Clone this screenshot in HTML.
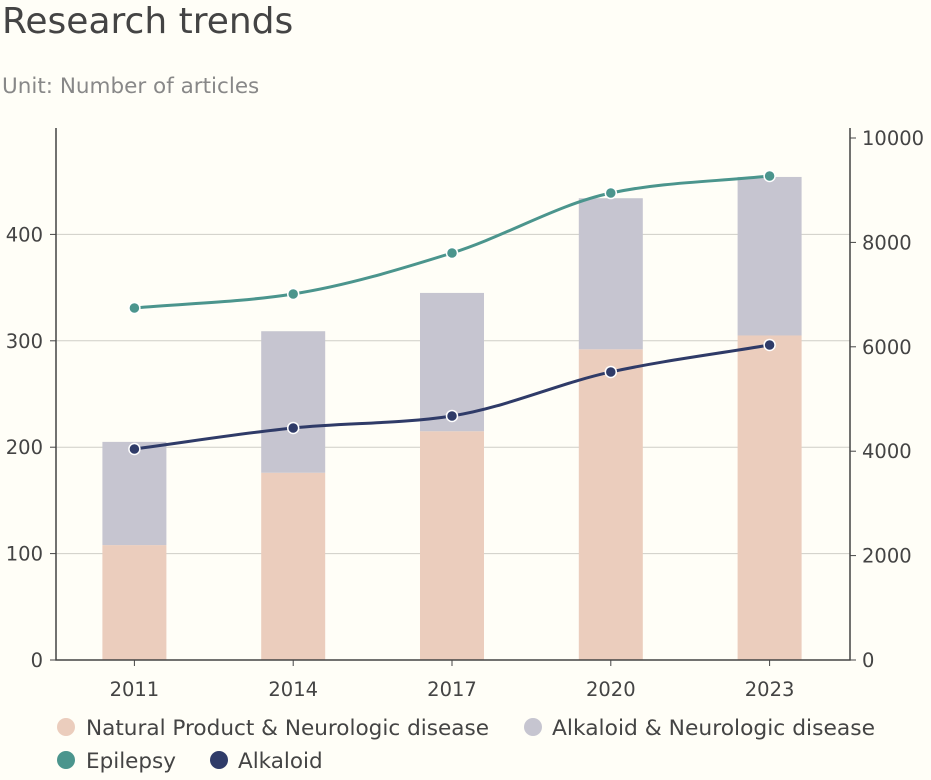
<!DOCTYPE html>
<html><head><meta charset="utf-8"><style>
html,body{margin:0;padding:0;background:#fffef7;}
body{width:931px;height:776px;overflow:hidden;font-family:"DejaVu Sans","Liberation Sans",sans-serif;}
svg text{font-family:"DejaVu Sans","Liberation Sans",sans-serif;}
</style></head><body>
<svg id="chart" width="931" height="776">
<text x="2" y="33" font-size="36" fill="#444">Research trends</text>
<text x="2" y="93" font-size="21.5" fill="#888">Unit: Number of articles</text>
<g id="grid"></g><g id="bars"></g><g id="axes"></g><g id="lines"></g>
<g font-size="21.5" fill="#444">
<g><circle cx="66" cy="727" r="9" fill="#ebcdbd"/><text x="86" y="735" textLength="403" lengthAdjust="spacingAndGlyphs">Natural Product &amp; Neurologic disease</text></g>
<g><circle cx="533" cy="727" r="9" fill="#c6c5d0"/><text x="552" y="735" textLength="323" lengthAdjust="spacingAndGlyphs">Alkaloid &amp; Neurologic disease</text></g>
<g><circle cx="66" cy="760" r="9" fill="#4b958d"/><text x="86" y="768">Epilepsy</text></g>
<g><circle cx="219" cy="760" r="9" fill="#2f3b68"/><text x="238" y="768">Alkaloid</text></g>
</g>
</svg>
<script>
const categories=["2011","2014","2017","2020","2023"];
const naturalProduct=[108,176,215,292,305];
const alkaloidNeuro=[97,133,130,142,149];
const epilepsy=[6744,7012,7797,8946,9272];
const alkaloid=[4042,4445,4675,5518,6035];
const leftTicks=[0,100,200,300,400];
const rightTicks=[0,2000,4000,6000,8000,10000];
const NS="http://www.w3.org/2000/svg";
const X0=56,X1=850,Y0=660,YT=128;
const band=(X1-X0)/categories.length;
const xc=i=>X0+band*(i+0.5)-1;
const yL=v=>Y0-v*(Y0-YT)/500;
const yR=v=>Y0-v*(Y0-138)/10000;
function mk(t,a,p){const e=document.createElementNS(NS,t);for(const k in a)e.setAttribute(k,a[k]);document.getElementById(p).appendChild(e);return e;}
leftTicks.forEach(t=>{if(t>0){const g=mk('line',{x1:X0,x2:X1,y1:yL(t),y2:yL(t),stroke:'#cfcec7','stroke-width':1},'grid');

}
const l=mk('text',{x:43,y:yL(t)+7,'text-anchor':'end','font-size':19.5,fill:'#444'},'axes');l.textContent=t;


mk('line',{x1:X0-6,x2:X0,y1:yL(t),y2:yL(t),stroke:'#444'},'axes');});
rightTicks.forEach(t=>{const l=mk('text',{x:862,y:yR(t)+7,'font-size':19.5,fill:'#444'},'axes');l.textContent=t;


mk('line',{x1:X1,x2:X1+6,y1:yR(t),y2:yR(t),stroke:'#444'},'axes');});
categories.forEach((c,i)=>{const bw=64;
const b1=mk('rect',{x:xc(i)-bw/2,y:yL(naturalProduct[i]),width:bw,height:Y0-yL(naturalProduct[i]),fill:'#ebcdbd'},'bars');


const b2=mk('rect',{x:xc(i)-bw/2,y:yL(naturalProduct[i]+alkaloidNeuro[i]),width:bw,height:yL(naturalProduct[i])-yL(naturalProduct[i]+alkaloidNeuro[i]),fill:'#c6c5d0'},'bars');


const t=mk('text',{x:xc(i),y:696,'text-anchor':'middle','font-size':19.5,fill:'#444'},'axes');t.textContent=c;


mk('line',{x1:xc(i),x2:xc(i),y1:Y0,y2:Y0+6,stroke:'#444'},'axes');});
const ax=mk('path',{d:`M${X0},${YT}V${Y0}H${X1}V${YT}`,fill:'none',stroke:'#444','stroke-width':1.5},'axes');


function monotone(pts){const n=pts.length,d=[],m=[];
for(let i=0;i<n-1;i++)d.push((pts[i+1][1]-pts[i][1])/(pts[i+1][0]-pts[i][0]));
for(let i=0;i<n;i++){if(i==0)m.push(d[0]);else if(i==n-1)m.push(d[n-2]);else m.push(d[i-1]*d[i]<=0?0:(d[i-1]+d[i])/2*0.6+(2*d[i-1]*d[i])/(d[i-1]+d[i])*0.4);}
let s=`M${pts[0][0]},${pts[0][1]}`;
for(let i=0;i<n-1;i++){const h=(pts[i+1][0]-pts[i][0])/3;s+=`C${pts[i][0]+h},${pts[i][1]+m[i]*h} ${pts[i+1][0]-h},${pts[i+1][1]-m[i+1]*h} ${pts[i+1][0]},${pts[i+1][1]}`;}return s;}
function series(vals,col,name){const pts=vals.map((v,i)=>[xc(i),yR(v)]);
const p=mk('path',{d:monotone(pts),fill:'none',stroke:col,'stroke-width':3},'lines');


pts.forEach((q,i)=>{const c=mk('circle',{cx:q[0],cy:q[1],r:5.5,fill:col,stroke:'#fff','stroke-width':1.5},'lines');

});}
series(epilepsy,'#4b958d','epilepsy');
series(alkaloid,'#2f3b68','alkaloid');
</script>
</body></html>
